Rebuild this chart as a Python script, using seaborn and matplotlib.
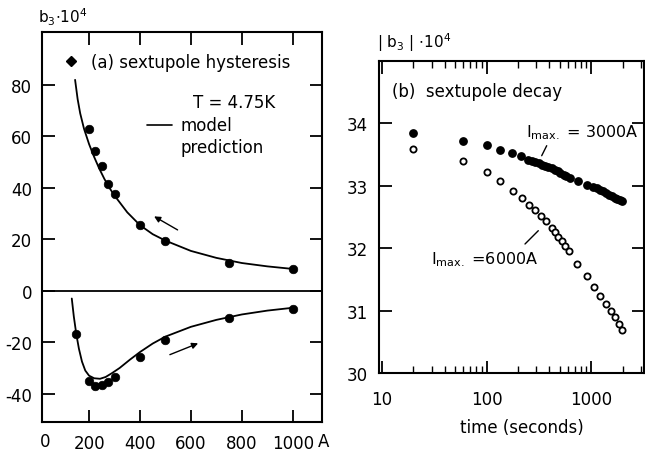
import matplotlib
matplotlib.use("Agg")
import matplotlib.pyplot as plt
from matplotlib.lines import Line2D
import numpy as np
import pandas as pd
import seaborn as sns

# --- (a) sextupole hysteresis: measured points ---
corriente_bajada = [200, 225, 250, 275, 300, 400, 500, 750, 1000]
b3_bajada = [63, 54.5, 48.5, 41.5, 37.5, 25.5, 19.5, 11, 8.3]
corriente_subida = [150, 200, 225, 250, 275, 300, 400, 500, 750, 1000]
b3_subida = [-16.7, -35.1, -37.0, -36.5, -35.5, -33.5, -25.7, -19.0, -10.6, -7.0]

# model prediction
modelo_bajada_x = [145, 155, 165, 180, 200, 220, 240, 260, 280, 300, 350, 400, 450, 500, 600, 700, 800, 900, 1000]
modelo_bajada_y = [82, 74.5, 69, 63, 57, 52, 47.5, 43.5, 40, 37, 30.5, 25.5, 22, 19.5, 15.5, 12.8, 10.8, 9.5, 8.5]
modelo_subida_x = [132, 140, 150, 160, 172, 185, 200, 220, 243, 265, 290, 320, 360, 400, 450, 500, 600, 700, 800, 900, 1000]
modelo_subida_y = [-3, -10, -17, -22.5, -27.5, -31, -33, -34, -34.2, -33.5, -32, -30, -26.8, -23.8, -20.5, -17.8, -14, -11.3, -9.2, -7.7, -6.6]

# --- (b) sextupole decay ---
tiempo_3000 = [20, 60, 100, 135, 175, 215, 250, 270, 290, 315, 340, 365, 390, 420, 450, 480, 510, 545, 580, 630,
               750, 910, 1050, 1130, 1210, 1300, 1390, 1480, 1580, 1680, 1790, 1900, 1970]
b3_3000 = [33.84, 33.72, 33.66, 33.57, 33.52, 33.48, 33.42, 33.40, 33.38, 33.36, 33.34, 33.32, 33.30, 33.28, 33.26,
           33.23, 33.21, 33.18, 33.15, 33.12, 33.08, 33.02, 32.98, 32.96, 32.93, 32.91, 32.88, 32.86, 32.83, 32.81,
           32.79, 32.77, 32.75]
tiempo_6000 = [20, 60, 100, 135, 180, 217, 256, 292, 333, 372, 422, 452, 488, 525, 565, 610, 740, 910, 1070, 1230,
               1380, 1540, 1700, 1860, 1990]
b3_6000 = [33.59, 33.40, 33.22, 33.08, 32.91, 32.81, 32.70, 32.62, 32.52, 32.43, 32.33, 32.26, 32.18, 32.12, 32.04,
           31.95, 31.75, 31.55, 31.38, 31.24, 31.10, 31.00, 30.89, 30.78, 30.69]

ticks_a_x = [200, 400, 600, 800, 1000]
ticks_a_y = [-40, -20, 0, 20, 40, 60, 80]
ticks_b_x = [10, 100, 1000]
ticks_b_y = [30, 31, 32, 33, 34]

sns.set_style("ticks")
plt.rcParams['font.family'] = ['DejaVu Sans']
plt.rcParams['mathtext.fontset'] = 'dejavusans'
plt.rcParams['axes.unicode_minus'] = False
for clave in ['text.color', 'axes.edgecolor', 'xtick.color', 'ytick.color', 'axes.labelcolor']:
    plt.rcParams[clave] = 'black'

W, H = 645, 452
fig = plt.figure(figsize=(W / 100, H / 100), dpi=100)


def fp(x, y):
    # pixel position of the reference -> figure fraction
    return (x / W, 1 - y / H)


ax1 = fig.add_axes([42 / W, 1 - 423 / H, 280 / W, 390 / H])
ax2 = fig.add_axes([379 / W, 1 - 374 / H, 265 / W, 312 / H])

# ---------------- panel a ----------------
df_pts = pd.concat([
    pd.DataFrame({'I': corriente_bajada, 'b3': b3_bajada}),
    pd.DataFrame({'I': corriente_subida, 'b3': b3_subida}),
])
sns.lineplot(x=modelo_bajada_x, y=modelo_bajada_y, ax=ax1, color='k', lw=1.3, sort=False)
sns.lineplot(x=modelo_subida_x, y=modelo_subida_y, ax=ax1, color='k', lw=1.3, sort=False)
sns.scatterplot(data=df_pts, x='I', y='b3', ax=ax1, color='k', s=38, edgecolor='k', zorder=5)
ax1.axhline(0, color='k', lw=1.3)

ax1.set_xlim(15, 1115)
ax1.set_ylim(-51, 100.6)
ax1.set_xticks(ticks_a_x)
ax1.set_yticks(ticks_a_y)
ax1.set_xlabel('')
ax1.set_ylabel('')
ax1.tick_params(direction='in', length=9, width=1.3, top=True, right=True, labelsize=12)
ax1.tick_params(axis='x', pad=9)
ax1.tick_params(axis='y', pad=7)
for s in ax1.spines.values():
    s.set_linewidth(1.5)

fig.text(*fp(45, 442), '0', fontsize=12, ha='center', va='center')
fig.text(*fp(318, 442), 'A', fontsize=12, ha='left', va='center')
fig.text(*fp(38, 17), r'b$_3$$\cdot$10$^4$', fontsize=11, ha='left', va='center')

ax1.legend(handles=[Line2D([], [], marker='D', ls='none', color='k', markersize=5)],
           labels=['(a) sextupole hysteresis'], loc='center left', frameon=False,
           bbox_to_anchor=fp(64, 63), bbox_transform=fig.transFigure,
           fontsize=12, handlelength=0.8, handletextpad=0.8, borderpad=0, borderaxespad=0)
fig.text(*fp(193, 103), 'T = 4.75K', fontsize=12, ha='left', va='center')
fig.add_artist(Line2D([147 / W, 172 / W], [1 - 126 / H, 1 - 126 / H], color='k', lw=1.2))
fig.text(*fp(181, 126), 'model', fontsize=12, ha='left', va='center')
fig.text(*fp(181, 148), 'prediction', fontsize=12, ha='left', va='center')

flecha = dict(arrowstyle='-|>', color='k', lw=1.0, mutation_scale=9)
ax1.annotate('', xy=fp(151.7, 216), xytext=fp(180, 232.3), xycoords='figure fraction',
             textcoords='figure fraction', arrowprops=flecha)
ax1.annotate('', xy=fp(200.7, 343.3), xytext=fp(167.3, 356.7), xycoords='figure fraction',
             textcoords='figure fraction', arrowprops=flecha)

# ---------------- panel b ----------------
df_dec = pd.concat([
    pd.DataFrame({'t': tiempo_3000, 'b3': b3_3000, 'Imax': '3000'}),
    pd.DataFrame({'t': tiempo_6000, 'b3': b3_6000, 'Imax': '6000'}),
])
sns.scatterplot(data=df_dec[df_dec.Imax == '3000'], x='t', y='b3', ax=ax2, color='k',
                s=28, edgecolor='k', linewidth=1, zorder=5)
sns.scatterplot(data=df_dec[df_dec.Imax == '6000'], x='t', y='b3', ax=ax2, facecolor='white',
                s=20, edgecolor='k', linewidth=1.3, zorder=5)

ax2.set_xscale('log')
ax2.set_xlim(9.36, 3210)
ax2.set_ylim(30, 35)
ax2.set_xticks(ticks_b_x)
ax2.set_xticklabels([str(v) for v in ticks_b_x])
ax2.set_yticks(ticks_b_y)
ax2.set_xlabel('')
ax2.set_ylabel('')
ax2.tick_params(which='major', direction='in', length=9, width=1.3, top=True, right=True, labelsize=12)
ax2.tick_params(which='minor', axis='x', direction='in', length=5, width=1.0, top=True, bottom=True)
ax2.tick_params(which='minor', axis='y', left=False, right=False)
ax2.tick_params(axis='x', which='major', pad=12)
ax2.tick_params(axis='y', pad=8)
for s in ax2.spines.values():
    s.set_linewidth(1.5)

fig.text(*fp(377, 43), r'| b$_3$ | $\cdot$10$^4$', fontsize=11, ha='left', va='center')
fig.text(*fp(522, 428), 'time (seconds)', fontsize=12, ha='center', va='center')
fig.text(*fp(392, 92), '(b)  sextupole decay', fontsize=12, ha='left', va='center')

fig.text(*fp(526, 133), r'I$_{\mathrm{max.}}$ = 3000A', fontsize=11.5, ha='left', va='center')
fig.add_artist(Line2D([546.7 / W, 541.7 / W], [1 - 146.7 / H, 1 - 156.7 / H], color='k', lw=1.0))
fig.text(*fp(431, 260), r'I$_{\mathrm{max.}}$ =6000A', fontsize=11.5, ha='left', va='center')
fig.add_artist(Line2D([525 / W, 538.3 / W], [1 - 245 / H, 1 - 231.7 / H], color='k', lw=1.0))

fig.savefig('out.png', dpi=100)
